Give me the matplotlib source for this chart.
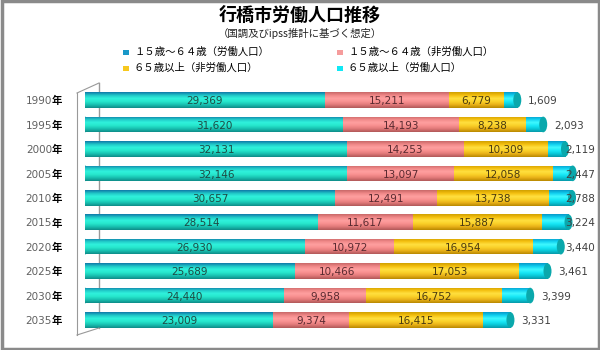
import matplotlib
matplotlib.use("Agg")
import matplotlib.pyplot as plt
import matplotlib.transforms as mtransforms
from matplotlib.patches import Ellipse, Rectangle
from matplotlib.lines import Line2D
from matplotlib.colors import LinearSegmentedColormap
import numpy as np

plt.rcParams['font.family'] = ['Noto Sans CJK JP', 'DejaVu Sans']

years = ["1990", "1995", "2000", "2005", "2010", "2015", "2020", "2025", "2030", "2035"]
work_15_64 = [29369, 31620, 32131, 32146, 30657, 28514, 26930, 25689, 24440, 23009]
nonwork_15_64 = [15211, 14193, 14253, 13097, 12491, 11617, 10972, 10466, 9958, 9374]
nonwork_65 = [6779, 8238, 10309, 12058, 13738, 15887, 16954, 17053, 16752, 16415]
work_65 = [1609, 2093, 2119, 2447, 2788, 3224, 3440, 3461, 3399, 3331]

series = [work_15_64, nonwork_15_64, nonwork_65, work_65]
legend_labels = ["１５歳～６４歳（労働人口）", "１５歳～６４歳（非労働人口）",
                 "６５歳以上（非労働人口）", "６５歳以上（労働人口）"]
title = "行橋市労働人口推移"
subtitle = "（国調及びipss推計に基づく想定）"

base_colors = ["#22DEC6", "#F58A8A", "#F7C81E", "#10E2F2"]
gradients = [
    ["#1078A8", "#20C8C8", "#30F2DC", "#26E6CC", "#18C0B0", "#0E8C88"],
    ["#C86868", "#F08888", "#FFA0A0", "#F89090", "#E07878", "#B05858"],
    ["#D0A000", "#F5C010", "#FFE040", "#FAD028", "#E8B018", "#B88800"],
    ["#0898C8", "#10D0F0", "#40F8FF", "#18E8F6", "#08C8D8", "#0898A8"],
]
label_colors = ["#1d4a44", "#5a2a30", "#4a3a10", "#404040"]

W, H = 600, 350
fig = plt.figure(figsize=(6, 3.5), dpi=100)
fig.patch.set_facecolor("white")

fig.add_artist(Rectangle((0.0025, 0.004), 0.995, 0.992, transform=fig.transFigure,
                         fill=False, edgecolor="#8a8a8a", linewidth=2.5))

def fpx(x, y):
    return x / W, 1 - y / H

def fline(p1, p2, **kw):
    a = fpx(*p1); b = fpx(*p2)
    fig.add_artist(Line2D([a[0], b[0]], [a[1], b[1]], transform=fig.transFigure, **kw))

fline((99, 83), (99, 328), color="#999999", lw=1.0, zorder=0)
fline((77, 93), (77, 335), color="#999999", lw=0.8)
fline((77, 93), (99, 83), color="#999999", lw=0.8)
fline((77, 335), (99, 328), color="#999999", lw=0.8)

xmax = 62000
left_px, right_px = 85, 591
n = len(years)
top_px, bot_px = 100 - 12.2, 320 + 12.2
ax = fig.add_axes([left_px / W, 1 - bot_px / H, (right_px - left_px) / W, (bot_px - top_px) / H])
ax.set_xlim(0, xmax)
ax.set_ylim(n - 0.5, -0.5)
ax.axis("off")

ypos = np.arange(n)
bar_h = 0.64
px_per_unit = (right_px - left_px) / xmax

left = np.zeros(n)
for si, vals in enumerate(series):
    vals = np.array(vals, dtype=float)
    bars = ax.barh(ypos, vals, left=left, height=bar_h, color=base_colors[si],
                   edgecolor="none", zorder=2)
    cmap = LinearSegmentedColormap.from_list(f"g{si}", gradients[si])
    grad = np.linspace(0, 1, 64).reshape(-1, 1)
    for b in bars:
        x0, y0 = b.get_x(), b.get_y()
        w, h = b.get_width(), b.get_height()
        im = ax.imshow(grad, cmap=cmap, aspect="auto", extent=(x0, x0 + w, y0 + h, y0),
                       zorder=2.5, interpolation="bilinear")
        im.set_clip_path(b)
    if si < 3:
        for yi, (l, v) in enumerate(zip(left, vals)):
            ax.text(l + v / 2, yi + 0.05, f"{int(v):,}", ha="center", va="center",
                    fontsize=7.5, color=label_colors[si], family="DejaVu Sans", zorder=5)
    left = left + vals

totals = left
cap_w = 8 / px_per_unit
lab_off = 11 / px_per_unit
lab_max = (565 - left_px) / px_per_unit
for yi, t in enumerate(totals):
    ax.add_patch(Ellipse((t, yi), cap_w, bar_h, facecolor="#0AA8AC", edgecolor="none", zorder=3))
    ax.add_patch(Ellipse((0, yi), cap_w * 0.9, bar_h, facecolor="#1DB8B0", edgecolor="none", zorder=1.9))
    ax.text(min(t + lab_off, lab_max), yi + 0.05, f"{work_65[yi]:,}", ha="left", va="center",
            fontsize=7.5, color="#404040", family="DejaVu Sans", zorder=5)

trans = mtransforms.blended_transform_factory(fig.transFigure, ax.transData)
for yi, yr in enumerate(years):
    ax.text(52 / W, yi + 0.05, yr, transform=trans, ha="right", va="center",
            fontsize=7.5, color="#606060", family="DejaVu Sans")
    ax.text(52 / W, yi + 0.05, "年", transform=trans, ha="left", va="center",
            fontsize=7.5, color="black", fontweight="bold")

fig.text(0.5, 1 - 15.5 / H, title, ha="center", va="center", fontsize=13, fontweight="bold")
fig.text(0.5, 1 - 33 / H, subtitle, ha="center", va="center", fontsize=7.5, color="#222222")

leg_pos = [(123, 52), (337, 52), (123, 68), (337, 68)]
for i, (lx, ly) in enumerate(leg_pos):
    x, y = fpx(lx, ly)
    fig.add_artist(Rectangle((x, y - 2.5 / H), 6 / W, 5 / H, transform=fig.transFigure,
                             facecolor=["#1898C8", "#F59C9C", "#F7C81E", "#10E8F5"][i],
                             edgecolor="none"))
    fig.text(x + 11 / W, y, legend_labels[i], ha="left", va="center", fontsize=7.5,
             color="black")

fig.savefig("out.png", dpi=100)
